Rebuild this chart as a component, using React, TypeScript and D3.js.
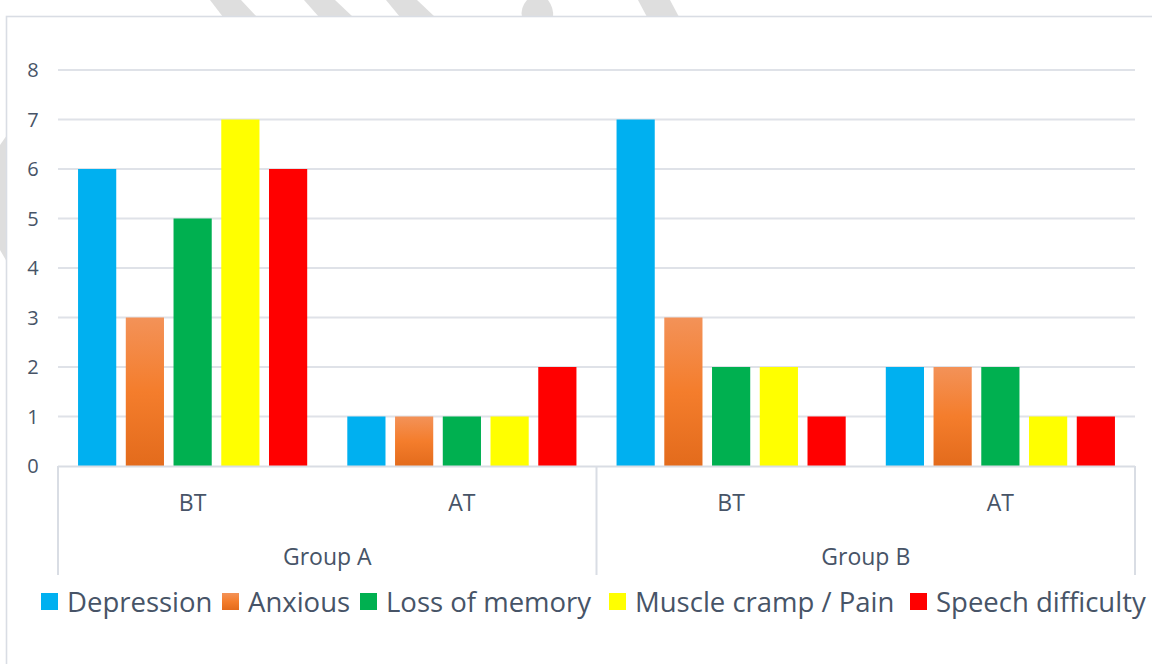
import React from "react";
import * as d3 from "d3";

// Symptom scores, before (BT) and after (AT) treatment, for two groups
const groups = ["Group A", "Group B"];
const phases = ["BT", "AT"];
const series = ["Depression", "Anxious", "Loss of memory", "Muscle cramp / Pain", "Speech difficulty"];
const colors = ["#00B0F0", "url(#orangeGrad)", "#00B050", "#FFFF00", "#FF0000"];

const groupABT = [6, 3, 5, 7, 6];
const groupAAT = [1, 1, 1, 1, 2];
const groupBBT = [7, 3, 2, 2, 1];
const groupBAT = [2, 2, 2, 1, 1];

const yTicks = [0, 1, 2, 3, 4, 5, 6, 7, 8];

const W = 1152;
const H = 664;

export default function App() {
  const cells = [
    { group: groups[0], phase: phases[0], values: groupABT },
    { group: groups[0], phase: phases[1], values: groupAAT },
    { group: groups[1], phase: phases[0], values: groupBBT },
    { group: groups[1], phase: phases[1], values: groupBAT },
  ];
  const keys = cells.map((c) => c.group + "|" + c.phase);

  const left = 58;
  const right = 1135;
  const y = d3.scaleLinear().domain([0, 8]).range([466, 70]);
  const x0 = d3.scaleBand<string>().domain(keys).range([left, right]).paddingInner(0).paddingOuter(0);
  const x1 = d3
    .scaleBand<string>()
    .domain(series)
    .range([0, x0.bandwidth()])
    .paddingInner(0.2)
    .paddingOuter(0.42);
  const xg = d3.scaleBand<string>().domain(groups).range([left, right]);

  const textColor = "#475467";
  const lineColor = "#d9dde4";
  const font = "'Open Sans', 'Noto Sans', sans-serif";

  // legend layout
  const legendX = [41, 222, 360, 609, 910];

  return (
    <svg
      width={W}
      height={H}
      style={{ position: "absolute", left: 0, top: 0, background: "#fff" }}
      fontFamily={font}
    >
      <defs>
        <linearGradient id="orangeGrad" x1="0" y1="0" x2="0" y2="1">
          <stop offset="0" stopColor="#F39258" />
          <stop offset="0.5" stopColor="#F47D2C" />
          <stop offset="1" stopColor="#E36B1C" />
        </linearGradient>
      </defs>

      {/* faint background marks behind the chart frame */}
      <g fill="#dedede">
        <polygon points="210,0 241,0 257,17 223,17" />
        <polygon points="304,0 335,0 353,17 319,17" />
        <polygon points="386,0 417,0 435,17 400,17" />
        <path d="M527,0 L548,0 Q554,8 553,17 L522,17 Q520,8 527,0 Z" />
        <polygon points="638,0 670,0 679,17 647,17" />
        <polygon points="7,135 0,145 0,250 7,262" />
      </g>

      {/* chart frame */}
      <rect x={6.5} y={16.5} width={W + 20} height={H + 20} fill="#fff" stroke={lineColor} strokeWidth={1.6} />

      {/* gridlines and y labels */}
      {yTicks.map((t) => (
        <g key={t}>
          {t > 0 && (
            <line x1={left} x2={right} y1={y(t)} y2={y(t)} stroke="#dfe2e8" strokeWidth={2} />
          )}
          <text x={33} y={y(t)} dy="0.36em" textAnchor="middle" fontSize={20} fill={textColor}>
            {t}
          </text>
        </g>
      ))}

      {/* bars */}
      {cells.map((c, ci) => (
        <g key={keys[ci]} transform={`translate(${x0(keys[ci])},0)`}>
          {c.values.map((v, si) => (
            <rect
              key={series[si]}
              x={x1(series[si])}
              y={y(v)}
              width={x1.bandwidth()}
              height={y(0) - y(v)}
              fill={colors[si]}
            />
          ))}
        </g>
      ))}

      {/* category axis */}
      <line x1={left} x2={right} y1={y(0) + 0.5} y2={y(0) + 0.5} stroke={lineColor} strokeWidth={2} />
      {[left, xg(groups[1])!, right].map((xv, i) => (
        <line key={i} x1={xv} x2={xv} y1={y(0)} y2={575} stroke={lineColor} strokeWidth={2} />
      ))}
      {cells.map((c, ci) => (
        <text
          key={keys[ci]}
          x={x0(keys[ci])! + x0.bandwidth() / 2}
          y={503}
          dy="0.36em"
          textAnchor="middle"
          fontSize={23}
          fill={textColor}
        >
          {c.phase}
        </text>
      ))}
      {groups.map((g) => (
        <text
          key={g}
          x={xg(g)! + xg.bandwidth() / 2}
          y={557}
          dy="0.36em"
          textAnchor="middle"
          fontSize={23}
          fill={textColor}
        >
          {g}
        </text>
      ))}

      {/* legend */}
      {series.map((s, i) => (
        <g key={s} transform={`translate(${legendX[i]},0)`}>
          <rect x={0} y={593} width={17} height={17} fill={colors[i]} />
          <text x={26} y={602} dy="0.36em" fontSize={27.5} fill={textColor}>
            {s}
          </text>
        </g>
      ))}
    </svg>
  );
}
